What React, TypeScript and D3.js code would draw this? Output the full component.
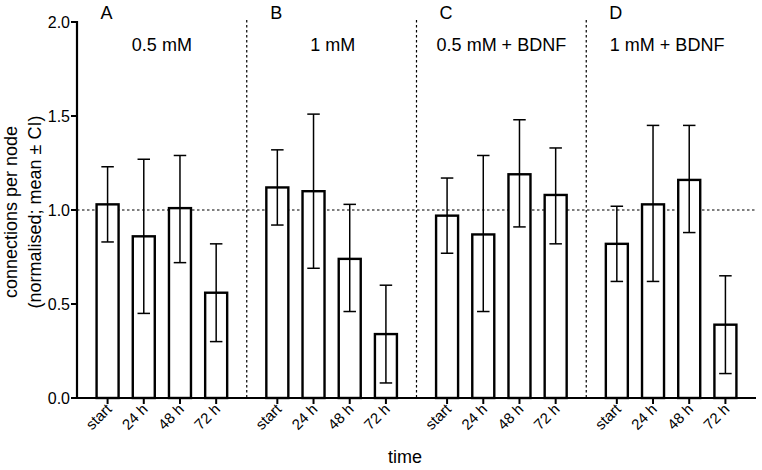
import React from "react";
import * as d3 from "d3";

const groupLetters = ["A", "B", "C", "D"];
const conditions = ["0.5 mM", "1 mM", "0.5 mM + BDNF", "1 mM + BDNF"];
const times = ["start", "24 h", "48 h", "72 h"];
const meansA = [1.03, 0.86, 1.01, 0.56];
const meansB = [1.12, 1.1, 0.74, 0.34];
const meansC = [0.97, 0.87, 1.19, 1.08];
const meansD = [0.82, 1.03, 1.16, 0.39];
const lowerA = [0.83, 0.45, 0.72, 0.3];
const lowerB = [0.92, 0.69, 0.46, 0.08];
const lowerC = [0.77, 0.46, 0.91, 0.82];
const lowerD = [0.62, 0.62, 0.88, 0.13];
const upperA = [1.23, 1.27, 1.29, 0.82];
const upperB = [1.32, 1.51, 1.03, 0.6];
const upperC = [1.17, 1.29, 1.48, 1.33];
const upperD = [1.02, 1.45, 1.45, 0.65];
const yTicks = [0, 0.5, 1.0, 1.5, 2.0];
const refLine = 1.0;

const means = [meansA, meansB, meansC, meansD];
const lowers = [lowerA, lowerB, lowerC, lowerD];
const uppers = [upperA, upperB, upperC, upperD];

const W = 762;
const H = 470;
const FONT = "'Liberation Sans', Arial, Helvetica, sans-serif";

export default function App() {
  const x0 = 77, x1 = 756, yTop = 22, yBot = 398;
  const y = d3.scaleLinear().domain([0, 2]).range([yBot, yTop]);
  const gScale = d3.scaleBand<string>().domain(groupLetters).range([x0, x1]).padding(0);
  const tScale = d3.scalePoint<string>().domain(times).range([0, gScale.bandwidth()]).padding(0.845);
  const barW = 22;
  const capW = 12.5;
  const fmt = d3.format(".1f");
  const labelShift = [0, 1, 0, -4];

  return (
    <svg width={W} height={H} style={{ position: "absolute", left: 0, top: 0, background: "#fff" }} fontFamily={FONT}>
      <rect x={0} y={0} width={W} height={H} fill="#fff" />
      <line x1={x0} x2={x1} y1={y(refLine)} y2={y(refLine)} stroke="#000" strokeWidth={1.2} strokeDasharray="2.5,2.5" />
      {groupLetters.slice(1).map((g) => (
        <line key={g} x1={gScale(g)!} x2={gScale(g)!} y1={20} y2={yBot} stroke="#000" strokeWidth={1.2} strokeDasharray="2.5,2.5" />
      ))}
      {groupLetters.map((g, gi) => (
        <g key={g}>
          {times.map((t, ti) => {
            const cx = gScale(g)! + tScale(t)!;
            const v = means[gi][ti];
            const lo = lowers[gi][ti];
            const hi = uppers[gi][ti];
            return (
              <g key={t}>
                <rect x={cx - barW / 2} y={y(v)} width={barW} height={yBot - y(v)} fill="#fff" stroke="#000" strokeWidth={2.4} />
                <line x1={cx} x2={cx} y1={y(lo)} y2={y(hi)} stroke="#000" strokeWidth={1.5} />
                <line x1={cx - capW / 2} x2={cx + capW / 2} y1={y(lo)} y2={y(lo)} stroke="#000" strokeWidth={1.5} />
                <line x1={cx - capW / 2} x2={cx + capW / 2} y1={y(hi)} y2={y(hi)} stroke="#000" strokeWidth={1.5} />
              </g>
            );
          })}
          <text x={gScale(g)! + tScale(times[0])! - 1} y={19} textAnchor="middle" fontSize={18} fill="#000">{g}</text>
          <text x={gScale(g)! + gScale.bandwidth() / 2 + labelShift[gi]} y={51} textAnchor="middle" fontSize={18} fill="#000">{conditions[gi]}</text>
          {times.map((t) => {
            const cx = gScale(g)! + tScale(t)!;
            return (
              <g key={"tick" + t}>
                <line x1={cx} x2={cx} y1={yBot} y2={yBot + 6} stroke="#000" strokeWidth={2} />
                <text transform={`translate(${cx + 5},${yBot + 12}) rotate(-45)`} textAnchor="end" fontSize={15} fill="#000">{t}</text>
              </g>
            );
          })}
        </g>
      ))}
      <line x1={x0} x2={x0} y1={yTop - 1} y2={yBot + 1} stroke="#000" strokeWidth={2.2} />
      <line x1={x0 - 1} x2={x1} y1={yBot} y2={yBot} stroke="#000" strokeWidth={2.2} />
      {yTicks.map((v) => (
        <g key={v}>
          <line x1={x0 - 6} x2={x0} y1={y(v)} y2={y(v)} stroke="#000" strokeWidth={2} />
          <text x={x0 - 7} y={y(v) + 5.5} textAnchor="end" fontSize={16} fill="#000">{fmt(v)}</text>
        </g>
      ))}
      <text transform={`translate(17,${(yTop + yBot) / 2 + 2}) rotate(-90)`} textAnchor="middle" fontSize={18} fill="#000">connections per node</text>
      <text transform={`translate(41,${(yTop + yBot) / 2 + 2}) rotate(-90)`} textAnchor="middle" fontSize={18} fill="#000">(normalised; mean ± CI)</text>
      <text x={405} y={463} textAnchor="middle" fontSize={18} fill="#000">time</text>
    </svg>
  );
}
